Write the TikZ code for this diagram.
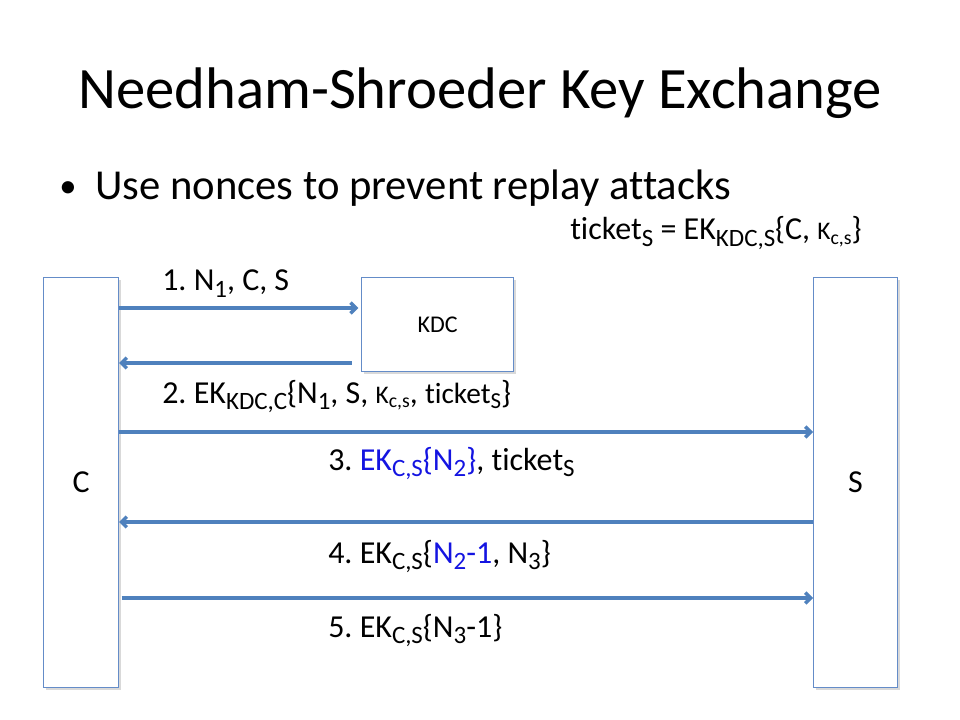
\documentclass[tikz,border=0pt]{standalone}
\usepackage{fontspec}
\usepackage{graphicx}
\setmainfont{Carlito}[Ligatures=NoCommon]
\usetikzlibrary{arrows.meta,shadows}
\definecolor{msgblue}{RGB}{79,129,189}
\definecolor{boxline}{RGB}{100,140,200}
\definecolor{keyblue}{RGB}{20,20,225}
\newcommand{\lo}[1]{\raisebox{-0.4ex}{\scalebox{0.78}{#1}}}
\frenchspacing
\begin{document}
\begin{tikzpicture}[>={Straight Barb[length=4pt,width=8pt]},x=0.75pt,y=-0.75pt,
	party/.style={draw=boxline,line width=0.8pt,fill=white,inner sep=0pt,
		drop shadow={opacity=0.3,shadow xshift=1.5pt,shadow yshift=-1.5pt},
		font=\fontsize{24}{28}\selectfont},
	msg/.style={draw=msgblue,line width=2.6pt,->},
	lbl/.style={anchor=base west,inner sep=0pt,font=\fontsize{24}{28}\selectfont}]
	\useasboundingbox (0,0) rectangle (960,720);
	% title and bullet
	\node[font=\fontsize{44}{52}\selectfont] (title) at (480,93) {Needham-Shroeder Key Exchange};
	\node[anchor=base west,inner sep=0pt,font=\fontsize{26}{30}\selectfont] (bullet) at (59,198) {•};
	\node[anchor=base west,inner sep=0pt,font=\fontsize{32}{38}\selectfont] (point) at (95,200) {Use nonces to prevent replay attacks};
	\node[lbl] (ticket) at (570,240) {ticket\lo{S} = EK\lo{KDC,S}\{C, {\fontsize{19}{22}\selectfont K\lo{c,s}}\}};
	% the parties
	\node[party,anchor=north west,minimum width=56.25pt,minimum height=307.5pt] (C) at (43,277) {C};
	\node[party,anchor=north west,minimum width=63pt,minimum height=307.5pt] (S) at (813,277) {S};
	\node[party,anchor=north west,minimum width=114pt,minimum height=70.5pt,
		font=\fontsize{18}{22}\selectfont] (KDC) at (361,277) {KDC};
	% messages
	\draw[msg,shorten >=2pt] (C.east |- 0,308) -- (KDC.west |- 0,308);
	\draw[msg,shorten <=7pt] (KDC.west |- 0,363) -- (C.east |- 0,363);
	\draw[msg] (C.east |- 0,432) -- (S.west |- 0,432);
	\draw[msg] (S.west |- 0,522) -- (C.east |- 0,522);
	\draw[msg,shorten <=2pt] (C.east |- 0,598) -- (S.west |- 0,598);
	\node[lbl] (m1) at (162,291) {1. N\lo{1}, C, S};
	\node[lbl] (m2) at (162,403) {2. EK\lo{KDC,C}\{N\lo{1}, S, {\fontsize{19}{22}\selectfont K\lo{c,s}}, {\fontsize{22}{26}\selectfont ticket\lo{S}}\}};
	\node[lbl] (m3) at (328,470) {3. \textcolor{keyblue}{EK\lo{C,S}\{N\lo{2}\}}, ticket\lo{S}};
	\node[lbl] (m4) at (328,563) {4. EK\lo{C,S}\{\textcolor{keyblue}{N\lo{2}-1}, N\lo{3}\}};
	\node[lbl] (m5) at (328,637) {5. EK\lo{C,S}\{N\lo{3}-1\}};
\end{tikzpicture}
\end{document}
